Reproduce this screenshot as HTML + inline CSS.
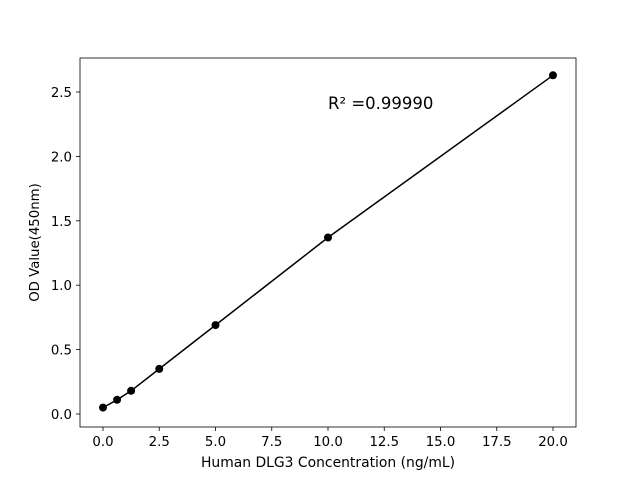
<!DOCTYPE html>
<html><head><meta charset="utf-8"><style>body{margin:0;background:#fff}svg{display:block}text{font-family:"DejaVu Sans","Liberation Sans",sans-serif;fill:#000}</style></head>
<body>
<svg width="640" height="480" viewBox="0 0 640 480" xmlns="http://www.w3.org/2000/svg">
<rect width="640" height="480" fill="#fff"/>
<rect x="80" y="58" width="496" height="369" fill="none" stroke="#000" stroke-width="0.8"/>
<g stroke="#000" stroke-width="0.8">
<line x1="103" y1="427" x2="103" y2="431"/><line x1="159.25" y1="427" x2="159.25" y2="431"/><line x1="215.5" y1="427" x2="215.5" y2="431"/><line x1="271.75" y1="427" x2="271.75" y2="431"/><line x1="328" y1="427" x2="328" y2="431"/><line x1="384.25" y1="427" x2="384.25" y2="431"/><line x1="440.5" y1="427" x2="440.5" y2="431"/><line x1="496.75" y1="427" x2="496.75" y2="431"/><line x1="553" y1="427" x2="553" y2="431"/>
<line x1="76" y1="414" x2="80" y2="414"/><line x1="76" y1="349.6" x2="80" y2="349.6"/><line x1="76" y1="285.2" x2="80" y2="285.2"/><line x1="76" y1="220.8" x2="80" y2="220.8"/><line x1="76" y1="156.4" x2="80" y2="156.4"/><line x1="76" y1="92" x2="80" y2="92"/>
</g>
<g font-size="13.3" text-anchor="middle">
<text x="103" y="446">0.0</text><text x="159.25" y="446">2.5</text><text x="215.5" y="446">5.0</text><text x="271.75" y="446">7.5</text><text x="328" y="446">10.0</text><text x="384.25" y="446">12.5</text><text x="440.5" y="446">15.0</text><text x="496.75" y="446">17.5</text><text x="553" y="446">20.0</text>
</g>
<g font-size="13.3" text-anchor="end">
<text x="72" y="419">0.0</text><text x="72" y="354.6">0.5</text><text x="72" y="290.2">1.0</text><text x="72" y="225.8">1.5</text><text x="72" y="161.4">2.0</text><text x="72" y="97">2.5</text>
</g>
<text x="328" y="467" font-size="13.9" text-anchor="middle">Human DLG3 Concentration (ng/mL)</text>
<text transform="translate(39,242.5) rotate(-90)" font-size="13.3" text-anchor="middle">OD Value(450nm)</text>
<text x="328" y="109" font-size="16.5">R² =0.99990</text>
<polyline fill="none" stroke="#000" stroke-width="1.5" points="103,407.6 117.06,399.8 131.1,390.8 159.25,368.9 215.5,325.1 328,237.5 553,75.3"/>
<g fill="#000">
<circle cx="103" cy="407.6" r="4"/><circle cx="117.06" cy="399.8" r="4"/><circle cx="131.1" cy="390.8" r="4"/><circle cx="159.25" cy="368.9" r="4"/><circle cx="215.5" cy="325.1" r="4"/><circle cx="328" cy="237.5" r="4"/><circle cx="553" cy="75.3" r="4"/>
</g>
</svg>
</body></html>
